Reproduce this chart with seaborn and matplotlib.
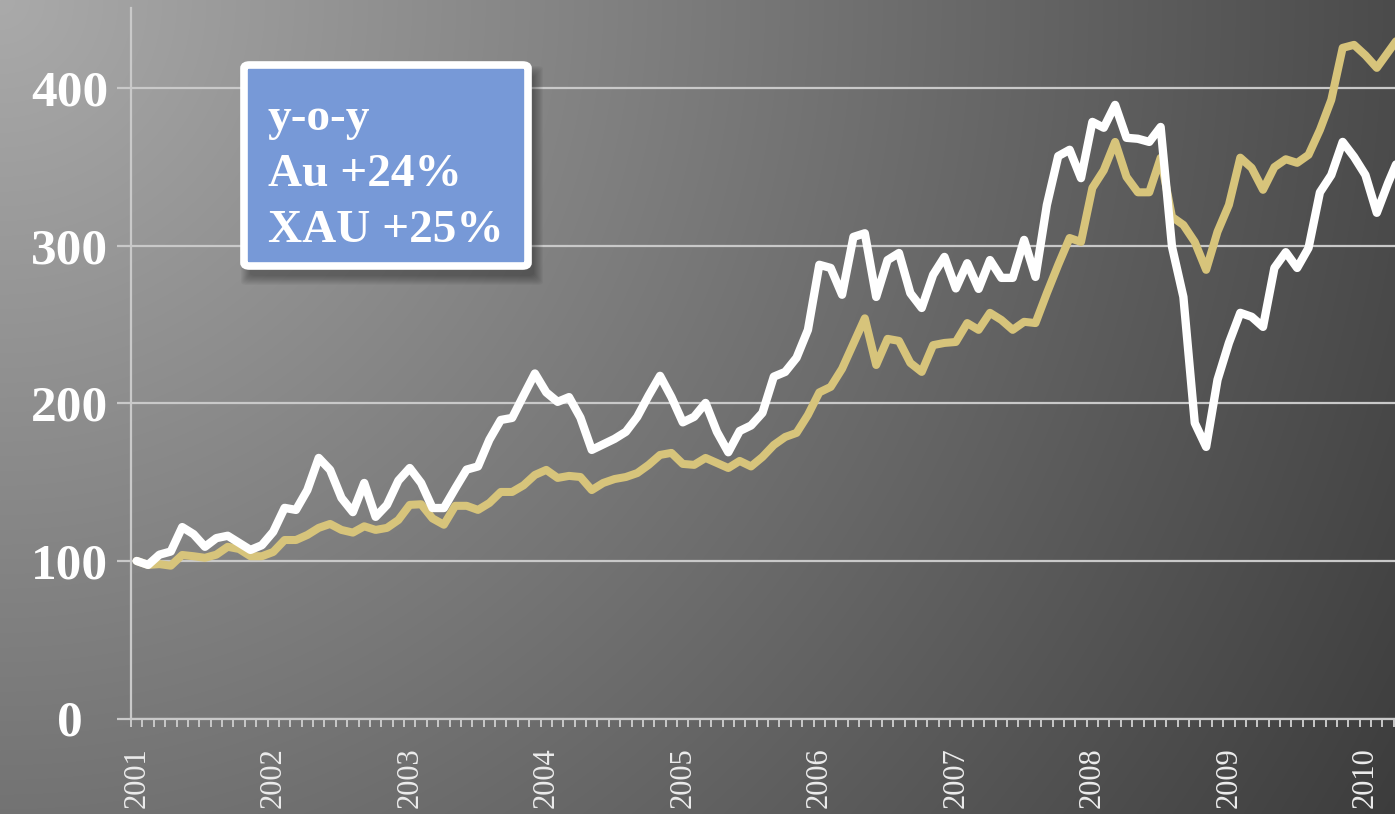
import numpy as np
import pandas as pd
import seaborn as sns
import matplotlib.pyplot as plt
from matplotlib.patches import FancyBboxPatch

# monthly index values, Jan 2001 = 100
years = [str(y) for y in range(2001, 2011)]

xau = [100, 97.5, 104, 106, 121.5, 117, 109, 114.5, 116, 111.5, 107, 110,
       118.5, 133.7, 132.4, 145, 165.4, 157.8, 140, 131, 149.5, 128, 135.6, 151,
       159, 149.5, 133.6, 133.6, 146, 158, 160, 177, 189.5, 190.8, 205, 219,
       207, 201, 204, 191, 170.5, 174, 177.5, 182, 191.5, 205, 217.5, 204,
       188, 191.5, 200.3, 182, 169, 182.5, 186, 194, 217, 220, 229, 246.7,
       288, 286, 269, 305.7, 308, 267.6, 291, 295.5, 270, 260.6, 281.6, 293,
       273, 289, 272.7, 291, 279.7, 279.7, 303.8, 280.3, 326, 357, 361, 343,
       378.7, 375, 389.5, 368.6, 368, 366, 375.5, 299.4, 267.6, 187.6, 172.4, 215,
       238.4, 257.5, 255, 248.6, 286, 296, 286, 298.7, 334, 345, 366, 356.5,
       345, 321, 340, 357]

au = [100, 97.5, 98, 97, 103.8, 103, 102, 104, 109, 107.6, 103, 103,
      105.7, 113.3, 113.3, 116.5, 121, 123.5, 119.7, 118, 122, 119.7, 121, 126,
      135.6, 136, 127, 123, 135, 135, 132.4, 136.8, 143.8, 143.8, 148, 154.6,
      157.8, 152.7, 154, 153.3, 145, 149.5, 152, 153.3, 155.8, 161, 167.3, 168.6,
      161.6, 161, 165.4, 162.2, 159, 163.5, 160, 166, 173.6, 178.7, 181.3, 192.7,
      207, 210.5, 222, 238, 254, 224.4, 241, 239.7, 225.7, 220, 237, 238.4,
      239, 251, 246.7, 257.5, 253, 246.7, 251.8, 251, 270, 288, 305, 302.5,
      336.8, 348, 366, 343.8, 334, 334, 355.9, 318.4, 313.3, 302.5, 284.8, 309,
      326, 356, 349.5, 335.6, 350, 355, 352.7, 357.8, 373.6, 392.7, 425.7, 427.6,
      421, 413, 423, 433]

box_lines = ["y-o-y", "Au +24%", "XAU +25%"]

df = pd.DataFrame({"month": np.arange(len(xau)), "XAU": xau, "Au": au})

sns.set_style("white")
plt.rcParams['font.family'] = ['Liberation Serif', 'DejaVu Serif']

W, H = 1395, 814
fig = plt.figure(figsize=(W / 100, H / 100), dpi=100)

# background gradient, light top-left to dark bottom-right
yy, xx = np.mgrid[0:H, 0:W]
d = np.sqrt(xx ** 2 + yy ** 2)
shade = np.clip(170 - 0.068 * d, 40, 255) / 255.0
bg = fig.add_axes([0, 0, 1, 1], zorder=-10)
bg.imshow(np.dstack([shade, shade, shade]), aspect='auto', extent=(0, W, H, 0))
bg.axis('off')

ax = fig.add_axes([131 / W, 1 - 718.5 / H, 1 - 131 / W, (718.5 - 8) / H])
ax.patch.set_alpha(0)

grid_c = '#c9c9c9'
sns.lineplot(data=df, x="month", y="Au", ax=ax, color='#d7c47b', linewidth=5.8, zorder=3)
sns.lineplot(data=df, x="month", y="XAU", ax=ax, color='white', linewidth=6.0, zorder=4)

ax.set_xlim(-0.5, 110.6)
ax.set_ylim(0, 451)
ax.set_xlabel("")
ax.set_ylabel("")

ax.set_yticks([0, 100, 200, 300, 400])
ax.yaxis.grid(True, color=grid_c, linewidth=1.6)
ax.set_axisbelow(True)
for s in ['top', 'right']:
    ax.spines[s].set_visible(False)
for s in ['left', 'bottom']:
    ax.spines[s].set_color(grid_c)
    ax.spines[s].set_linewidth(1.6)

ax.tick_params(axis='y', which='major', left=True, length=10, width=1.6, color=grid_c,
               pad=34, labelsize=37, labelcolor='white')
for lab in ax.get_yticklabels():
    lab.set_fontweight('bold')
    lab.set_horizontalalignment('center')

ax.set_xticks(np.arange(0, 109, 12))
ax.set_xticklabels(years, rotation=90, fontsize=22, color='#ececec')
ax.set_xticks(np.arange(len(xau)) - 0.5, minor=True)
ax.tick_params(axis='x', which='major', bottom=False, length=0, pad=21)
ax.tick_params(axis='x', which='minor', bottom=True, length=6, width=1.4, color=grid_c)
for lab in ax.get_xticklabels():
    lab.set_verticalalignment('top')

# y-o-y box with soft shadow
bx, by, bw, bh = 244, 65, 284, 201
for k in range(10):
    sh = FancyBboxPatch(((bx + 6 - k) / W, 1 - (by + bh + 10 + k) / H),
                        (bw + 2 * k) / W, (bh + 2 * k) / H,
                        boxstyle="round,pad=0,rounding_size=0.004",
                        transform=fig.transFigure, facecolor='black',
                        edgecolor='none', alpha=0.035, zorder=5)
    fig.patches.append(sh)
box = FancyBboxPatch((bx / W, 1 - (by + bh) / H), bw / W, bh / H,
                     boxstyle="round,pad=0,rounding_size=0.004",
                     transform=fig.transFigure, facecolor='#7799d7',
                     edgecolor='white', linewidth=5.5, zorder=6)
fig.patches.append(box)
for txt, base in zip(box_lines, [130, 186, 242]):
    fig.text(268 / W, 1 - base / H, txt, fontsize=34, fontweight='bold',
             color='white', ha='left', va='baseline', zorder=7)

fig.savefig('out.png', dpi=100)
